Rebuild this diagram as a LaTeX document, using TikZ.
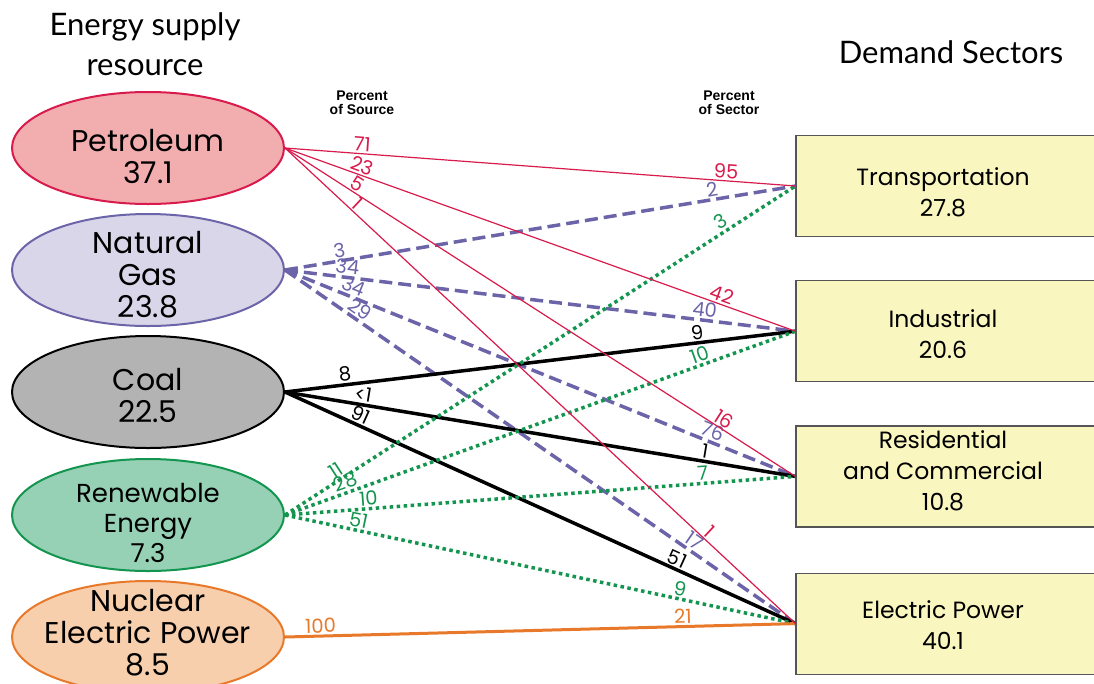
\documentclass[tikz,border=0pt]{standalone}
\usepackage{fontspec}
\setmainfont{Poppins}
\newfontfamily\headfont{Lato}
\newfontfamily\pctfont{Liberation Sans}
\usetikzlibrary{positioning,shapes.geometric}
\definecolor{petred}{HTML}{D81B4C}
\definecolor{petfill}{HTML}{F2ADAF}
\definecolor{gasblue}{HTML}{6C64A8}
\definecolor{gasfill}{HTML}{DAD6EA}
\definecolor{coalfill}{HTML}{B3B3B3}
\definecolor{rengreen}{HTML}{13954F}
\definecolor{renfill}{HTML}{96D1B5}
\definecolor{nucorange}{HTML}{E8792A}
\definecolor{nucfill}{HTML}{F8CFAD}
\definecolor{boxfill}{HTML}{F9F6C0}
\definecolor{boxline}{HTML}{555555}

\begin{document}
\begin{tikzpicture}[x=1pt, y=-1pt,
  src/.style={ellipse, line width=2pt, minimum width=272pt, minimum height=112pt, inner sep=0pt},
  srctext/.style={align=center, yshift=-8pt, text=black, font=\fontsize{30}{32}\selectfont},
  sector/.style={rectangle, draw=boxline, fill=boxfill, line width=1.2pt,
                 minimum width=300pt, minimum height=101pt, inner sep=0pt},
  sectext/.style={align=center, yshift=-6pt, xshift=-3pt, text=black, font=\fontsize{23.5}{31}\selectfont},
  head/.style={align=center, font=\headfont\fontsize{31}{40}\selectfont},
  pct/.style={align=center, font=\pctfont\bfseries\fontsize{14}{14}\selectfont},
  lab/.style={sloped, above, inner sep=1.5pt, font=\fontsize{19.5}{19.5}\selectfont},
  petflow/.style={draw=petred, line width=1.2pt},
  gasflow/.style={draw=gasblue, line width=3.5pt, dash pattern=on 13pt off 6pt},
  coalflow/.style={draw=black, line width=3.5pt},
  renflow/.style={draw=rengreen, line width=3.5pt, dash pattern=on 3.5pt off 3.5pt},
  nucflow/.style={draw=nucorange, line width=3pt}]
\useasboundingbox (0,0) rectangle (1094,683);
\clip (0,0) rectangle (1094,683);

% headings
\node[head] (supply) at (145,44) {Energy supply\\resource};
\node[head] (demand) at (951,52) {Demand Sectors};
\node[pct] (pctsrc) at (362,103) {Percent\\of Source};
\node[pct] (pctsec) at (729,103) {Percent\\of Sector};

% energy sources
\node[src, draw=petred, fill=petfill, label={[srctext]center:{Petroleum\\37.1}}] (pet) at (148,148) {};
\node[src, draw=gasblue, fill=gasfill, below=8pt of pet, label={[srctext, yshift=3pt]center:{Natural\\Gas\\23.8}}] (gas) {};
\node[src, draw=black, fill=coalfill, below=8pt of gas, label={[srctext, yshift=5pt]center:{Coal\\22.5}}] (coal) {};
\node[src, draw=rengreen, fill=renfill, below=9pt of coal, label={[srctext, font=\fontsize{26}{30}\selectfont]center:{Renewable\\Energy\\7.3}}] (ren) {};
\node[src, draw=nucorange, fill=nucfill, below=8pt of ren, label={[srctext, yshift=12pt]center:{Nuclear\\Electric Power\\8.5}}] (nuc) {};

% demand sectors
\node[sector, label={[sectext]center:{Transportation\\27.8}}] (tra) at (946,186) {};
\node[sector, below=43pt of tra, label={[sectext, yshift=3pt]center:{Industrial\\20.6}}] (ind) {};
\node[sector, below=43pt of ind, label={[sectext, yshift=12pt]center:{Residential\\and Commercial\\10.8}}] (res) {};
\node[sector, below=45pt of res, label={[sectext, yshift=4pt]center:{Electric Power\\40.1}}] (ele) {};

% flows
\draw[gasflow] (gas.east) -- node[lab, text=gasblue, pos=.11] {3} node[lab, text=gasblue, pos=.84] {2} (tra.west);
\draw[gasflow] (gas.east) -- node[lab, text=gasblue, pos=.12] {34} node[lab, text=gasblue, pos=.82] {40} (ind.west);
\draw[gasflow] (gas.east) -- node[lab, text=gasblue, pos=.127] {34} node[lab, text=gasblue, pos=.83] {76} (res.west);
\draw[gasflow] (gas.east) -- node[lab, text=gasblue, pos=.135] {29} node[lab, text=gasblue, pos=.79] {17} (ele.west);

\draw[coalflow] (coal.east) -- node[lab, pos=.12] {8} node[lab, pos=.81] {9} (ind.west);
\draw[coalflow] (coal.east) -- node[lab, pos=.15] {<1} node[lab, pos=.82] {1} (res.west);
\draw[coalflow] (coal.east) -- node[lab, pos=.14] {91} node[lab, pos=.76] {51} (ele.west);

\draw[renflow] (ren.east) -- node[lab, text=rengreen, pos=.11] {11} node[lab, text=rengreen, pos=.865] {3} (tra.west);
\draw[renflow] (ren.east) -- node[lab, text=rengreen, pos=.125] {28} node[lab, text=rengreen, pos=.82] {10} (ind.west);
\draw[renflow] (ren.east) -- node[lab, text=rengreen, pos=.165] {10} node[lab, text=rengreen, pos=.82] {7} (res.west);
\draw[renflow] (ren.east) -- node[lab, text=rengreen, pos=.14] {51} node[lab, text=rengreen, pos=.77] {9} (ele.west);

\draw[nucflow] (nuc.east) -- node[lab, text=nucorange, pos=.07] {100} node[lab, text=nucorange, pos=.78] {21} (ele.west);

\draw[petflow] (pet.east) -- node[lab, text=petred, pos=.15] {71} node[lab, text=petred, pos=.863] {95} (tra.west);
\draw[petflow] (pet.east) -- node[lab, text=petred, pos=.145] {23} node[lab, text=petred, pos=.85] {42} (ind.west);
\draw[petflow] (pet.east) -- node[lab, text=petred, pos=.133] {5} node[lab, text=petred, pos=.85] {16} (res.west);
\draw[petflow] (pet.east) -- node[lab, text=petred, pos=.13] {1} node[lab, text=petred, pos=.82] {1} (ele.west);
\end{tikzpicture}
\end{document}
